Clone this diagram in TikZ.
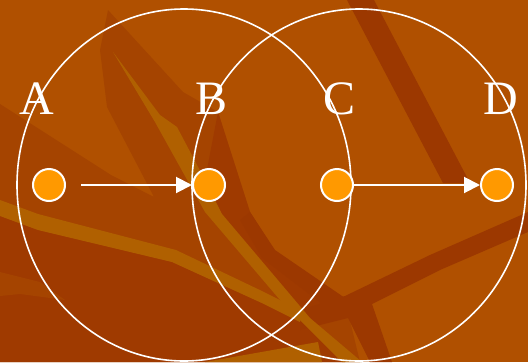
\documentclass[tikz,border=0pt]{standalone}
\usepackage{fontspec}
\setmainfont{Liberation Serif}
\usetikzlibrary{arrows.meta,positioning}

\definecolor{bgbase}{HTML}{B05000}
\definecolor{bgmid}{HTML}{A54400}
\definecolor{bglow}{HTML}{9F3A00}
\definecolor{bgdark}{HTML}{9C3800}
\definecolor{bglight}{HTML}{B06000}
\definecolor{dotfill}{HTML}{FF9900}

\begin{document}
\begin{tikzpicture}[
    x=1pt, y=-1pt,
    dot/.style={circle, draw=white, line width=2pt, fill=dotfill, minimum size=32pt, inner sep=0pt},
    letter/.style={text=white, anchor=base, inner sep=0pt, font=\fontsize{48}{48}\selectfont},
    ring/.style={draw=white, line width=1.6pt},
    arrow/.style={-{Triangle[length=16pt,width=16pt]}, draw=white, line width=2pt}
]
    \useasboundingbox (0,0) rectangle (528,362);

    % Background
    \fill[bgbase] (0,0) rectangle (528,362);
    \fill[bgmid] (108,10) -- (100,50) -- (107,107) -- (154,197) -- (111,175) -- (0,104) -- (0,362) -- (360,362) -- (345,300) -- (275,252) -- (250,212) -- (218,112) -- (183,92) -- cycle;
    \fill[bglow] (0,216) -- (38,230) -- (172,262) -- (264,304) -- (300,320) -- (345,362) -- (0,362) -- cycle;
    \fill[bglow] (218,112) -- (250,212) -- (275,252) -- (345,300) -- (300,318) -- (222,214) -- (205,180) -- cycle;
    \fill[bgmid] (0,272) -- (40,282) -- (65,300) -- (20,294) -- (0,296) -- cycle;
    \fill[bgdark] (347,0) -- (374,0) -- (470,183) -- (443,183) -- cycle;
    \fill[bgdark] (528,212) -- (528,232) -- (440,270) -- (372,304) -- (392,362) -- (370,362) -- (348,318) -- (300,330) -- (300,310) -- (345,296) -- (430,255) -- cycle;
    \fill[bgdark] (250,212) -- (275,250) -- (345,298) -- (330,310) -- (262,258) -- (240,220) -- cycle;
    \fill[bglight] (113,52) -- (160,115) -- (177,127) -- (205,180) -- (222,214) -- (310,318) -- (362,362) -- (342,362) -- (280,300) -- (205,212) -- (190,185) -- (155,122) -- cycle;
    \fill[bglight] (0,200) -- (38,214) -- (176,250) -- (264,292) -- (300,310) -- (300,322) -- (264,304) -- (172,262) -- (38,230) -- (0,216) -- cycle;
    \fill[bglight] (205,362) -- (318,342) -- (322,362) -- cycle;

    % Circles
    \draw[ring] (184,185) ellipse [x radius=167, y radius=176];
    \draw[ring] (359,185) ellipse [x radius=167, y radius=176];

    % Letters
    \node[letter] (la) at (37,114) {A};
    \node[letter] (lb) at (212,114) {B};
    \node[letter] (lc) at (340,114) {C};
    \node[letter] (ld) at (501,114) {D};

    % Dots
    \node[dot] (a) at (49,185) {};
    \node[dot] (b) at (209,185) {};
    \node[dot] (c) at (337,185) {};
    \node[dot] (d) at (497,185) {};

    % Connections
    \draw[arrow, shorten <=15pt] (a) -- (b);
    \draw[arrow] (c) -- (d);
\end{tikzpicture}
\end{document}
